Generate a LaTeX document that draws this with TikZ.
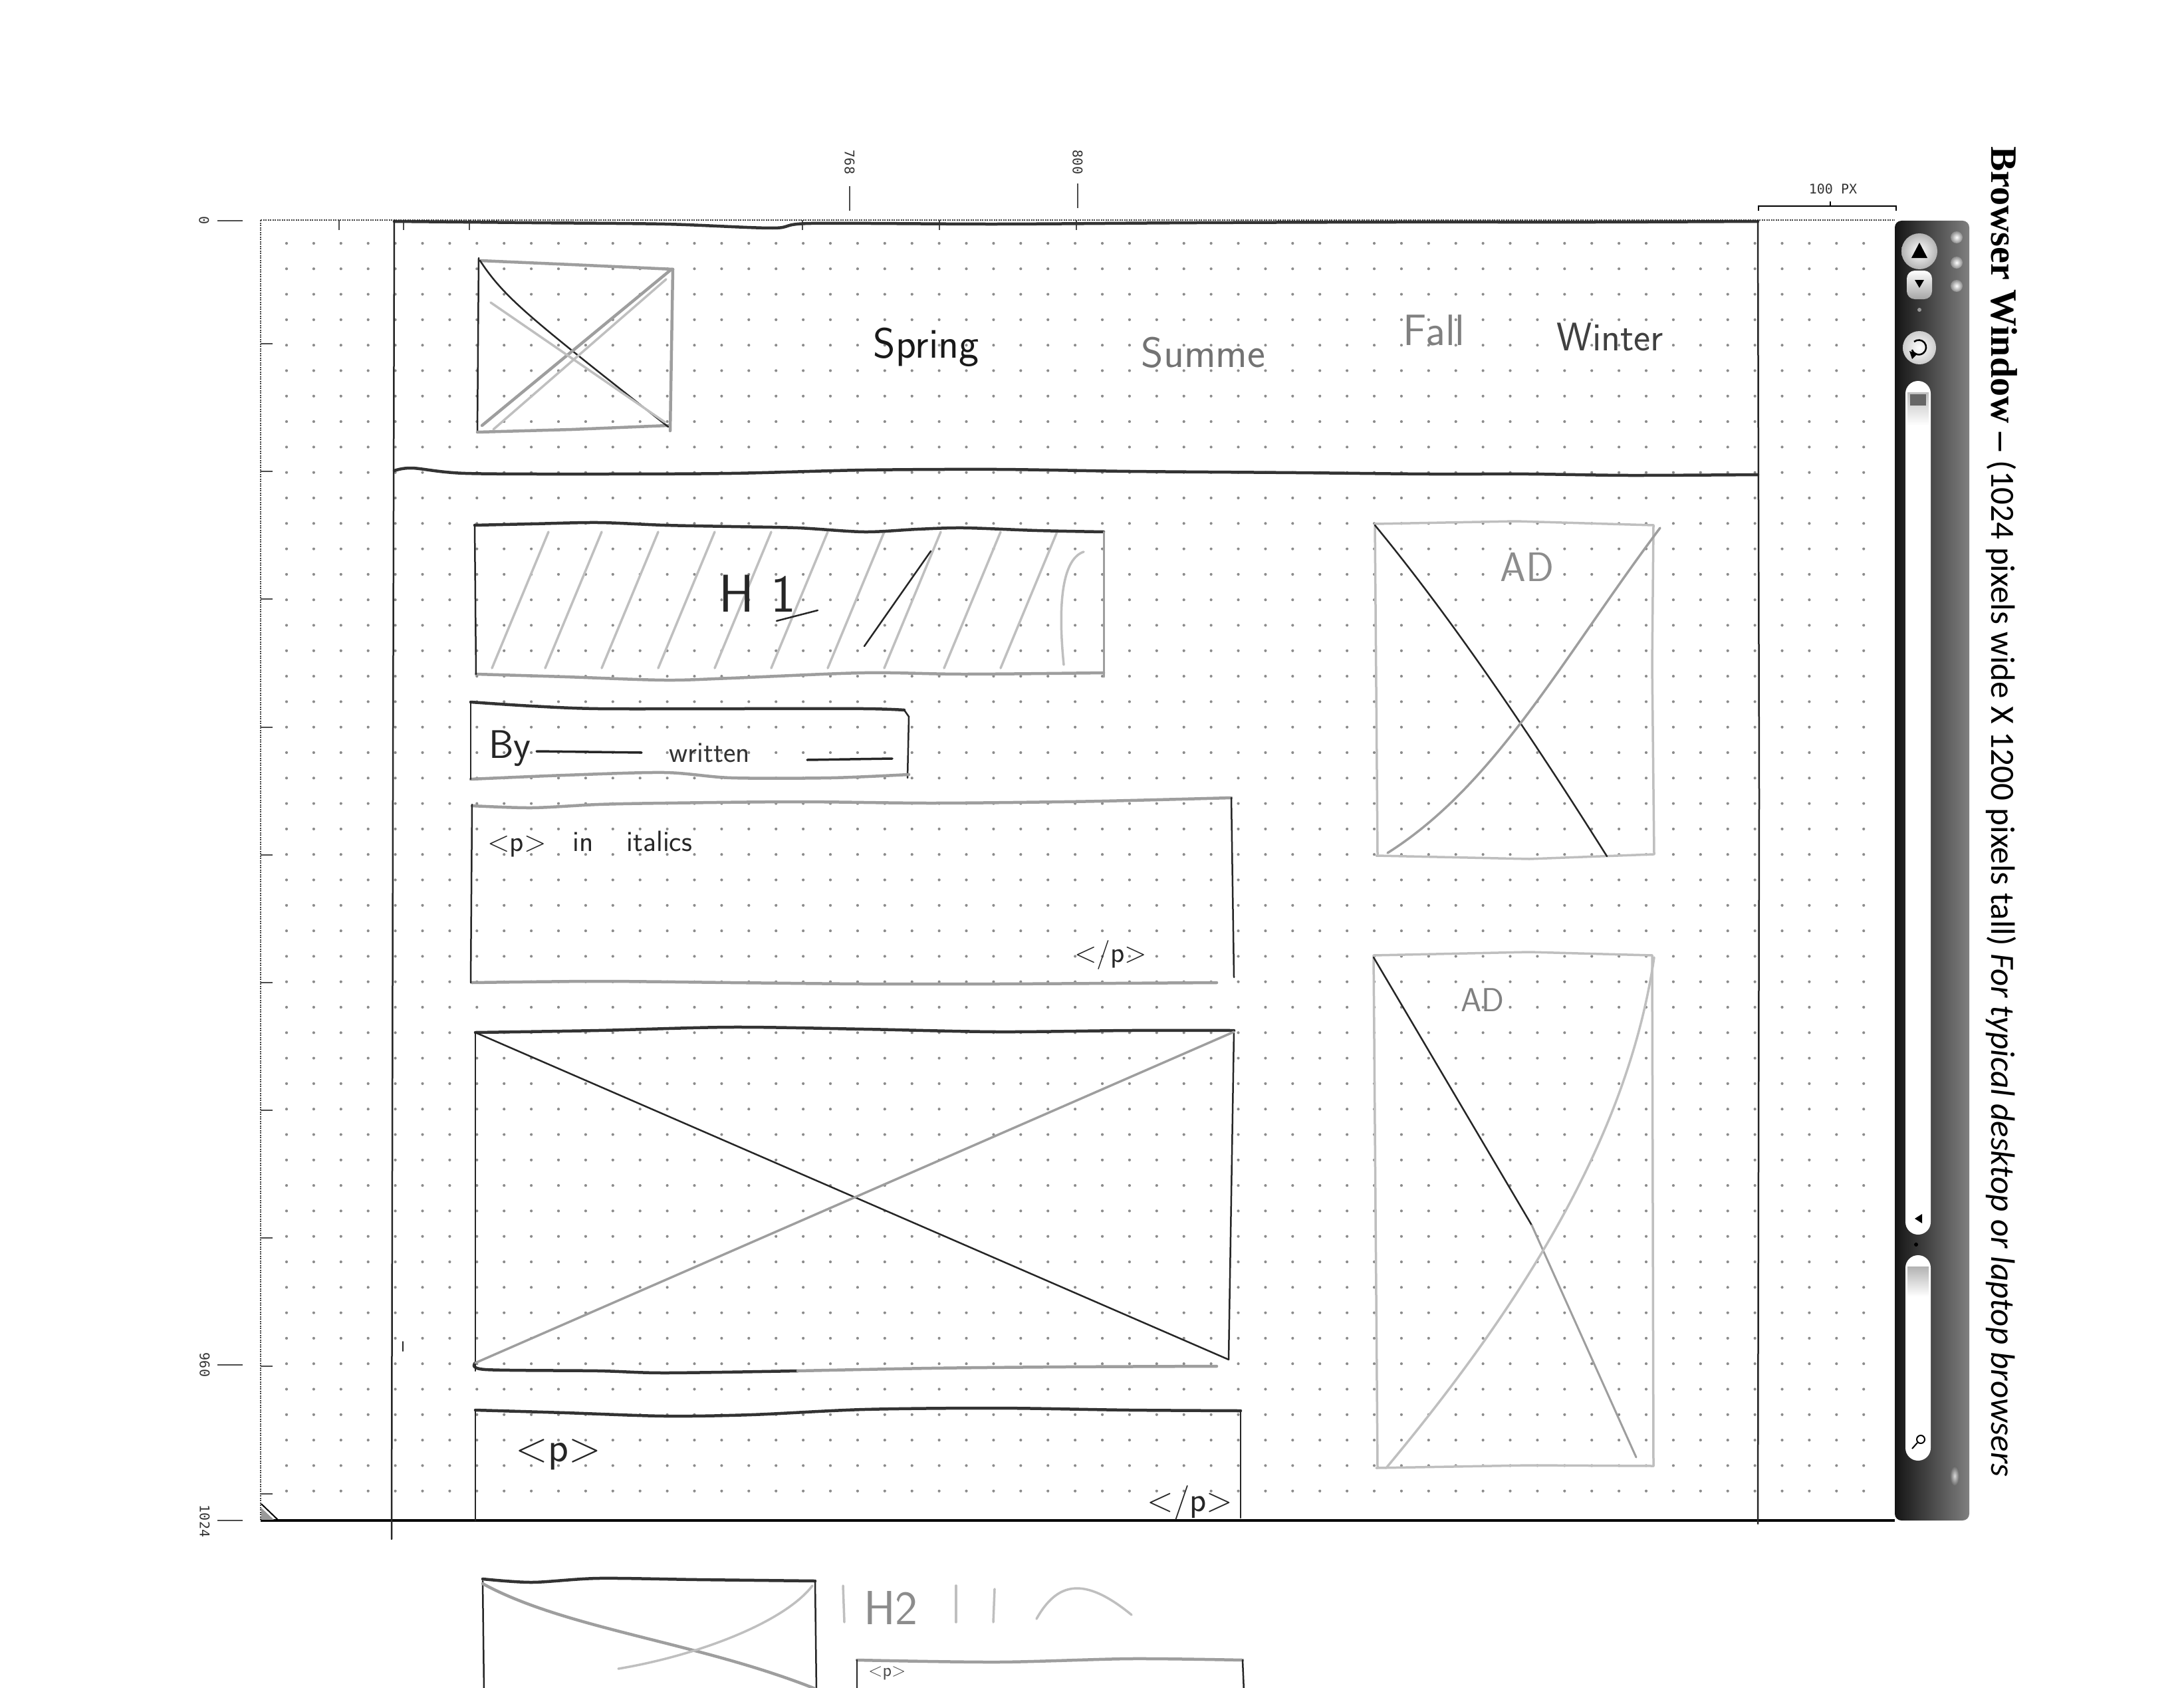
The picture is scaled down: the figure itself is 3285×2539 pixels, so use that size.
\documentclass[tikz,border=0pt]{standalone}
\usepackage{fontspec}
\newfontfamily\carlito{Carlito}
\newfontfamily\titleserif{Liberation Serif}
\newfontfamily\monofont{DejaVu Sans Mono}
\newcommand\hsz[1]{\fontsize{#1}{#1}\selectfont}
\begin{document}
\begin{tikzpicture}[x=1pt,y=-1pt,
  sk/.style={line width=4.5pt, draw=black!80, line cap=round, line join=round},
  skg/.style={line width=4.5pt, draw=black!38, line cap=round, line join=round},
  skl/.style={line width=3.5pt, draw=black!25, line cap=round, line join=round},
  skt/.style={line width=2.5pt, draw=black!85, line cap=round, line join=round},
  hand/.style={font=\sffamily, inner sep=0pt},
  mono/.style={font=\monofont\hsz{20}, inner sep=0pt, text=black!80},
  rulerline/.style={line width=1.6pt, draw=black!70},
  frameline/.style={line width=2pt, draw=black!75, dash pattern=on 2pt off 1.5pt},
  griddot/.style={fill=black!45}]
\useasboundingbox (0,0) rectangle (3285,2539);
\clip (0,0) rectangle (3285,2539);
\fill[white] (0,0) rectangle (3285,2539);

% ---------- dot grid ----------
\foreach \i in {0,...,58}{
  \foreach \j in {0,...,49}{
    \fill[griddot] (431+40.9*\i, 366+38.3*\j) circle (2.1);
  }
}

% ---------- frame / rulers ----------
\draw[frameline] (392,331) -- (2850,331);
\draw[frameline] (392,331) -- (392,2287);
\draw[line width=4pt, black] (392,2287) -- (2850,2287);
\foreach \yy in {517,709,901,1094,1286,1478,1670,1862,2055,2247}
  \draw[rulerline] (392,\yy) -- (410,\yy);
\foreach \xx in {510,607,706,1207,1413,1619}
  \draw[rulerline] (\xx,331) -- (\xx,346);
% resize grip
\fill[black!40] (393,2268) -- (393,2286) -- (412,2286) -- cycle;
\draw[line width=2pt] (393,2262) -- (418,2286);

% ruler labels
\node[mono, rotate=-90] (r0) at (307,332) {0};
\draw[rulerline] (327,332) -- (365,332);
\node[mono, rotate=-90] (r960) at (308,2053) {960};
\draw[rulerline] (327,2053) -- (365,2053);
\node[mono, rotate=-90] (r1024) at (308,2288) {1024};
\draw[rulerline] (327,2287) -- (365,2287);
\node[mono, rotate=-90] (r768) at (1278,244) {768};
\draw[rulerline] (1278,280) -- (1278,317);
\node[mono, rotate=-90] (r800) at (1621,244) {800};
\draw[rulerline] (1621,276) -- (1621,313);
% 100 px bracket
\node[mono] (r100) at (2757,284) {100 PX};
\draw[line width=2pt] (2645,317) -- (2645,310) -- (2852,310) -- (2852,317);
\draw[line width=2pt] (2753,310) -- (2753,303);

% ---------- page outline (hand drawn) ----------
\draw[sk] plot[smooth] coordinates {(593,333) (800,335) (1000,337) (1162,343) (1220,336) (1500,337) (1800,335) (2100,334) (2400,334) (2644,333)};
\draw[sk] plot[smooth] coordinates {(593,708) (620,704) (700,712) (900,713) (1100,712) (1300,707) (1500,706) (1700,709) (1950,711) (2150,713) (2300,713) (2450,715) (2644,714)};
\draw[skt] (593,331) -- (591,1200) -- (589,2315);
\draw[skt] (2644,331) -- (2646,1200) -- (2644,2292);
\draw[skt, line width=2pt] (606,2018) -- (606,2032);

% ---------- header ----------
\draw[skg] (722,392) -- (860,398) -- (1012,405);
\draw[skt] (720,388) -- (718,650);
\draw[skg] (1012,405) -- (1008,648);
\draw[skg] (718,650) -- (860,646) -- (1005,640);
\draw[skt] (722,392) .. controls (760,450) and (800,480) .. (1005,642);
\draw[skg] (1010,405) -- (725,640);
\draw[skl] (738,455) -- (1000,635);
\draw[skl] (1002,420) -- (742,646);

\node[hand, text=black!90] (spring) at (1393,522) {\hsz{64}Spring};
\node[hand, text=black!55] (summe) at (1810,530) {\hsz{64}Summe};
\node[hand, text=black!50] (fall) at (2157,497) {\hsz{66}Fall};
\node[hand, text=black!75] (winter) at (2422,507) {\hsz{60}Winter};

% ---------- H1 box ----------
\foreach \xb in {740,820,905,990,1075,1160,1245,1330,1420,1505}
  \draw[skl] (\xb,1005) -- (\xb+85,800);
\draw[skl] (1600,1000) .. controls (1590,900) and (1600,840) .. (1630,830);
\draw[skt] (1300,972) -- (1400,829);
\draw[sk] plot[smooth] coordinates {(714,790) (800,788) (900,786) (1000,790) (1100,792) (1200,794) (1300,800) (1380,796) (1450,794) (1560,798) (1660,800)};
\draw[skg] plot[smooth] coordinates {(716,1014) (850,1018) (1000,1023) (1100,1020) (1300,1012) (1450,1014) (1660,1012)};
\draw[skt] (714,790) -- (716,1014);
\draw[skg, line width=3pt] (1660,800) -- (1660,1018);
\node[hand, text=black!85] (h1) at (1139,893) {\hsz{80}H 1};
\draw[skt] (1168,934) -- (1230,918);

% ---------- By box ----------
\draw[sk] plot[smooth] coordinates {(708,1056) (800,1062) (900,1066) (1100,1066) (1300,1066) (1360,1068)};
\draw[skt] (1360,1068) -- (1367,1078) -- (1365,1170);
\draw[skg] plot[smooth] coordinates {(708,1172) (850,1166) (1000,1162) (1100,1170) (1250,1170) (1367,1165)};
\draw[skt] (708,1056) -- (708,1172);
\node[hand, text=black!85, anchor=base west] (by) at (735,1140) {\hsz{60}By};
\draw[skt, line width=3.5pt] (807,1130) -- (965,1132);
\node[hand, text=black!80, anchor=base west] (written) at (1006,1146) {\hsz{44}written};
\draw[skt, line width=3.5pt] (1214,1143) -- (1342,1141);

% ---------- <p> in italics box ----------
\draw[skg] plot[smooth] coordinates {(710,1212) (800,1215) (900,1210) (1000,1208) (1200,1206) (1400,1208) (1600,1206) (1700,1204) (1852,1200)};
\draw[skt] (1852,1200) -- (1856,1470);
\draw[skg] plot[smooth] coordinates {(710,1478) (900,1476) (1100,1478) (1300,1480) (1500,1480) (1830,1478)};
\draw[skt] (710,1210) -- (708,1478);
\node[hand, text=black!85, anchor=base west] (pital) at (733,1280) {\hsz{44}<p>\hspace{40pt}in\hspace{50pt}italics};
\node[hand, text=black!85, anchor=base west] (pitalend) at (1616,1447) {\hsz{44}</p>};

% ---------- image box ----------
\draw[sk] plot[smooth] coordinates {(715,1553) (900,1550) (1100,1545) (1300,1548) (1500,1552) (1700,1550) (1856,1550)};
\draw[skt] (1856,1550) -- (1848,2045);
\draw[sk] plot[smooth] coordinates {(715,2050) (730,2060) (900,2062) (1000,2065) (1200,2062)};
\draw[skg] plot[smooth] coordinates {(1200,2062) (1400,2058) (1600,2056) (1830,2055)};
\draw[skt] (715,1553) -- (715,2062);
\draw[skt] (715,1553) -- (1848,2045);
\draw[skg, line width=3.5pt] (1856,1552) -- (715,2050);

% ---------- bottom <p> box ----------
\draw[sk] plot[smooth] coordinates {(715,2121) (850,2125) (1000,2130) (1130,2128) (1300,2120) (1500,2118) (1700,2121) (1866,2122)};
\draw[skt] (1866,2122) -- (1866,2283);
\draw[skt] (715,2121) -- (715,2287);
\node[hand, text=black!85] (pbot) at (840,2188) {\hsz{64}<p>};
\node[hand, text=black!85] (pbotend) at (1790,2260) {\hsz{52}</p>};

% ---------- AD box 1 ----------
\draw[skl] (2068,788) -- (2280,784) -- (2487,790);
\draw[skl] (2068,788) -- (2072,1285);
\draw[skl] (2487,790) -- (2485,1000) -- (2488,1285);
\draw[skl] (2070,1287) -- (2300,1292) -- (2487,1285);
\draw[skt] (2068,790) .. controls (2200,950) and (2330,1150) .. (2417,1288);
\draw[skg, line width=3.5pt] (2497,794) .. controls (2350,990) and (2250,1180) .. (2087,1283);
\node[hand, text=black!45] (ad1) at (2297,853) {\hsz{62}AD};

% ---------- AD box 2 ----------
\draw[skl] (2066,1437) -- (2300,1432) -- (2485,1437);
\draw[skl] (2066,1437) -- (2072,2208);
\draw[skl] (2485,1437) -- (2487,2205);
\draw[skl] (2070,2208) -- (2300,2204) -- (2487,2205);
\draw[skt] (2066,1440) -- (2304,1843);
\draw[skg, line width=3pt] (2304,1843) -- (2461,2192);
\draw[skl] (2488,1440) .. controls (2450,1700) and (2300,1950) .. (2085,2208);
\node[hand, text=black!50] (ad2) at (2230,1504) {\hsz{50}AD};

% ---------- next sketch (cut off) ----------
\draw[sk] plot[smooth] coordinates {(726,2375) (800,2380) (900,2374) (1050,2376) (1226,2378)};
\draw[skt] (726,2378) -- (728,2545);
\draw[skt] (1226,2378) -- (1228,2545);
\draw[skg] (726,2382) .. controls (850,2450) and (1050,2470) .. (1226,2540);
\draw[skl] (1222,2385) .. controls (1180,2440) and (1050,2490) .. (930,2510);
\draw[skl] (1268,2385) -- (1270,2440);
\node[hand, text=black!45] (h2) at (1340,2418) {\hsz{72}H2};
\draw[skl] (1438,2385) -- (1438,2440);
\draw[skl] (1496,2390) -- (1494,2440);
\draw[skl] (1559,2435) .. controls (1590,2380) and (1630,2370) .. (1702,2429);
\draw[skg] plot[smooth] coordinates {(1289,2497) (1500,2500) (1700,2495) (1869,2497)};
\draw[skt] (1289,2497) -- (1289,2545);
\draw[skt] (1869,2497) -- (1871,2545);
\node[hand, text=black!70, anchor=north west] (pnext) at (1306,2507) {\hsz{28}<p>};

% ---------- browser chrome (scrollbar side) ----------
\shade[left color=black!92, right color=black!50, rounded corners=10] (2850,332) rectangle (2962,2287);
\shade[inner color=white, outer color=black!30] (2887,378) circle (27);
\fill (2887,365) -- (2875,388) -- (2899,388) -- cycle;
\shade[top color=white, bottom color=black!35, rounded corners=12] (2868,407) rectangle (2906,450);
\fill (2880,421) -- (2894,421) -- (2887,433) -- cycle;
\fill[black!40] (2887,466) circle (3);
\foreach \yy in {357,395,430}
  \shade[inner color=white, outer color=black!45] (2943,\yy) circle (9);
\shade[inner color=white, outer color=black!20] (2887,523) circle (25);
\draw[line width=2.5pt] (2879,514) arc[start angle=-130, end angle=160, radius=11];
\fill (2872,528) -- (2884,532) -- (2876,540) -- cycle;
\fill[white, rounded corners=19] (2866,573) rectangle (2904,1857);
\shade[top color=black!25, bottom color=white] (2869,590) rectangle (2901,640);
\fill[black!60] (2873,593) rectangle (2897,610);
\fill (2880,1833) -- (2891,1826) -- (2891,1840) -- cycle;
\fill (2882,1872) circle (3);
\fill[white, rounded corners=19] (2866,1888) rectangle (2904,2197);
\shade[top color=black!30, bottom color=white] (2869,1905) rectangle (2901,1950);
\draw[line width=2pt] (2889,2165) circle (6);
\draw[line width=2pt] (2884,2170) -- (2876,2179);
\shade[inner color=black!15, outer color=black!60] (2940,2220) ellipse (7 and 15);

% ---------- title ----------
\node[rotate=-90, anchor=base west, inner sep=0pt] (title) at (2995,220)
  {{\titleserif\bfseries\hsz{56}Browser Window –}\hspace{14pt}{\carlito\hsz{51}(1024 pixels wide X 1200 pixels tall) \itshape For typical desktop or laptop browsers}};
\end{tikzpicture}
\end{document}
